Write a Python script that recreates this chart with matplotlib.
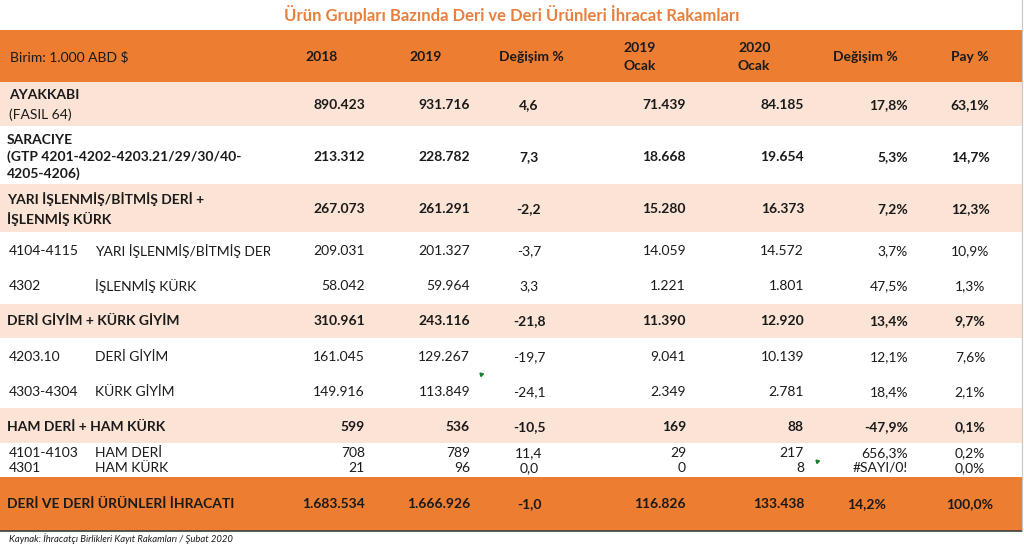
import matplotlib.pyplot as plt
from matplotlib.patches import Rectangle
from matplotlib.transforms import Bbox, TransformedBbox

plt.rcParams['font.family'] = ['Lato', 'DejaVu Sans']

# ---- data (Birim: 1.000 ABD $)
title = "Ürün Grupları Bazında Deri ve Deri Ürünleri İhracat Rakamları"
unit_label = "Birim: 1.000 ABD $"
col_headers = ["2018", "2019", "Değişim %", "2019\nOcak", "2020\nOcak", "Değişim %", "Pay %"]

codes = ["", "", "", "4104-4115", "4302", "", "4203.10", "4303-4304", "", "4101-4103", "4301", ""]
labels = ["AYAKKABI", "SARACIYE\n(GTP 4201-4202-4203.21/29/30/40-\n4205-4206)",
          "YARI İŞLENMİŞ/BİTMİŞ DERİ +\nİŞLENMİŞ KÜRK", "YARI İŞLENMİŞ/BİTMİŞ DERİ",
          "İŞLENMİŞ KÜRK", "DERİ GİYİM + KÜRK GİYİM", "DERİ GİYİM", "KÜRK GİYİM",
          "HAM DERİ + HAM KÜRK", "HAM DERİ", "HAM KÜRK", "DERİ VE DERİ ÜRÜNLERİ İHRACATI"]
is_group = [True, True, True, False, False, True, False, False, True, False, False, True]

exp_2018 = [890423, 213312, 267073, 209031, 58042, 310961, 161045, 149916, 599, 708, 21, 1683534]
exp_2019 = [931716, 228782, 261291, 201327, 59964, 243116, 129267, 113849, 536, 789, 96, 1666926]
chg_year = [4.6, 7.3, -2.2, -3.7, 3.3, -21.8, -19.7, -24.1, -10.5, 11.4, 0.0, -1.0]
jan_2019 = [71439, 18668, 15280, 14059, 1221, 11390, 9041, 2349, 169, 29, 0, 116826]
jan_2020 = [84185, 19654, 16373, 14572, 1801, 12920, 10139, 2781, 88, 217, 8, 133438]
chg_jan = [17.8, 5.3, 7.2, 3.7, 47.5, 13.4, 12.1, 18.4, -47.9, 656.3, None, 14.2]
share = [63.1, 14.7, 12.3, 10.9, 1.3, 9.7, 7.6, 2.1, 0.1, 0.2, 0.0, 100.0]

source = "Kaynak: İhracatçı Birlikleri Kayıt Rakamları / Şubat 2020"


def tr_int(v):
    return f"{v:,}".replace(",", ".")


def tr_dec(v, pct=False):
    if v is None:
        return "#SAYI/0!"
    s = f"{v:.1f}".replace(".", ",")
    return s + "%" if pct else s


# ---- layout (pixel space)
W, H = 1024, 547
ORANGE = '#ED7D31'
PEACH = '#FBE4D6'
TXT = '#1a1a1a'
FS = 10

row_y = [105, 157, 209, 251, 286, 321, 357, 392, 427, 453, 468, 504]
bands = [(30, 82, ORANGE), (82, 126, PEACH), (184, 232, PEACH), (304, 338, PEACH),
         (408, 443, PEACH), (477, 531, ORANGE)]

fig = plt.figure(figsize=(W / 100, H / 100), dpi=100)
ax = fig.add_axes([0, 0, 1, 1])
ax.set_xlim(0, W)
ax.set_ylim(H, 0)
ax.axis('off')

for top, bot, c in bands:
    ax.add_patch(Rectangle((0, top), 1022, bot - top, color=c, lw=0, zorder=0))
ax.plot([0, 1022], [531, 531], color='#404040', lw=1.2)
ax.plot([1022, 1022], [0, 531], color='#c8c8c8', lw=0.8)

ax.text(512, 15, title, color='#E8803D', fontsize=12, fontweight='bold',
        ha='center', va='center')
ax.text(10, 57, unit_label, color=TXT, fontsize=FS, va='center')

hx = [322, 426, 531, 623, 738, 865, 970]
hha = ['center', 'center', 'center', 'left', 'left', 'center', 'center']
for x, h, a in zip(hx, col_headers, hha):
    ax.text(x, 57, h, color=TXT, fontsize=FS, fontweight='bold', ha=a, va='center',
            linespacing=1.5)

# the long sub-label is cut off by the next cell, as in the sheet
clip = TransformedBbox(Bbox([[0, 0], [270, H]]), ax.transData)
for i, y in enumerate(row_y):
    wt = 'bold' if is_group[i] else 'normal'
    if codes[i]:
        ax.text(9, y, codes[i], color=TXT, fontsize=FS, va='center')
        t = ax.text(95, y, labels[i], color=TXT, fontsize=FS, va='center', clip_on=True)
        t.set_clip_box(clip)
    elif i == 0:
        ax.text(9, y - 10, labels[i], color=TXT, fontsize=FS, fontweight='bold', va='center')
        ax.text(9, y + 10, "(FASIL 64)", color=TXT, fontsize=FS, va='center')
    else:
        ax.text(7, y, labels[i], color=TXT, fontsize=FS, fontweight='bold', va='center',
                linespacing=1.45)

    last = i == len(row_y) - 1
    ax.text(365, y, tr_int(exp_2018[i]), color=TXT, fontsize=FS, fontweight=wt, ha='right', va='center')
    ax.text(470, y, tr_int(exp_2019[i]), color=TXT, fontsize=FS, fontweight=wt, ha='right', va='center')
    ax.text(529, y, tr_dec(chg_year[i]), color=TXT, fontsize=FS, fontweight=wt, ha='center', va='center')
    ax.text(686, y, tr_int(jan_2019[i]), color=TXT, fontsize=FS, fontweight=wt, ha='right', va='center')
    ax.text(804, y, tr_int(jan_2020[i]), color=TXT, fontsize=FS, fontweight=wt, ha='right', va='center')
    if last:
        ax.text(867, y, tr_dec(chg_jan[i], True), color=TXT, fontsize=FS, fontweight=wt, ha='center', va='center')
    else:
        ax.text(908, y, tr_dec(chg_jan[i], True), color=TXT, fontsize=FS, fontweight=wt, ha='right', va='center')
    ax.text(970, y, tr_dec(share[i], True), color=TXT, fontsize=FS, fontweight=wt, ha='center', va='center')

# excel error flags
ax.plot([481, 817], [374, 461], marker=(3, 0, 45), ls='none', ms=3, color='#1e7d32')

ax.text(9, 539, source, color=TXT, fontsize=6.8, style='italic', va='center')

fig.savefig('out.png', dpi=100)
